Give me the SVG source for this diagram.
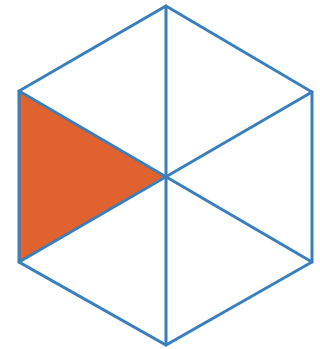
<svg xmlns="http://www.w3.org/2000/svg" width="320" height="349" viewBox="0 0 320 349">
<style>
.e{stroke:#3a7fbd;stroke-width:3;fill:none;stroke-linecap:round;stroke-linejoin:miter}
</style>
<rect width="320" height="349" fill="#ffffff"/>
<g id="shaded">
<polygon points="19,91 19,262 165,176" fill="#e0622e"/>
</g>
<g id="connectors">
<polygon class="e" points="166,6 312,92 312,262 166,345 19,262 19,91"/>
<line class="e" x1="166" y1="6" x2="166" y2="345"/>
<line class="e" x1="19" y1="91" x2="312" y2="262"/>
<line class="e" x1="19" y1="262" x2="312" y2="92"/>
</g>
</svg>
